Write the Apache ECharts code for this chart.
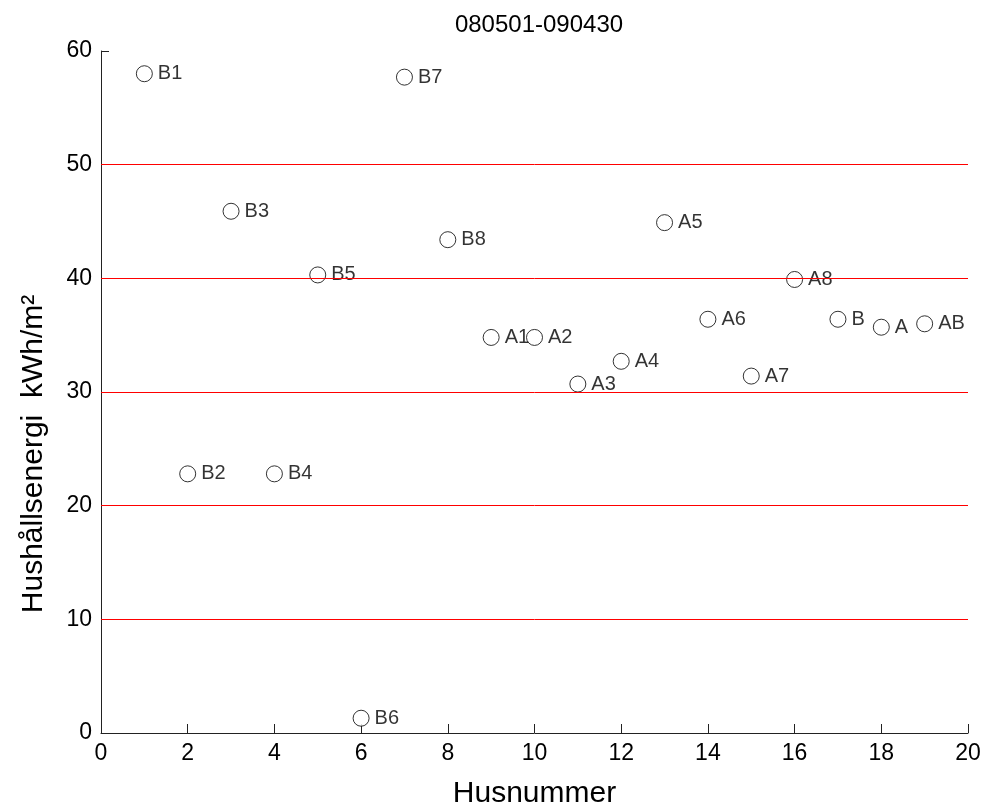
<!DOCTYPE html>
<html>
<head>
<meta charset="utf-8">
<script src="https://cdn.jsdelivr.net/npm/echarts@6/dist/echarts.min.js"></script>
<style>html,body{margin:0;padding:0;background:#fff;}#c{width:985px;height:807px;}</style>
</head>
<body>
<div id="c"></div>
<script>
const houseNumbers = [1, 2, 3, 4, 5, 6, 7, 8, 9, 10, 11, 12, 13, 14, 15, 16, 17, 18, 19];
const energy = [58.0, 22.8, 45.9, 22.8, 40.3, 1.3, 57.7, 43.4, 34.8, 34.8, 30.7, 32.7, 44.9, 36.4, 31.4, 39.9, 36.4, 35.7, 36.0];
const houseLabels = ['B1', 'B2', 'B3', 'B4', 'B5', 'B6', 'B7', 'B8', 'A1', 'A2', 'A3', 'A4', 'A5', 'A6', 'A7', 'A8', 'B', 'A', 'AB'];
const gridValues = [10, 20, 30, 40, 50];

const font = 'Liberation Sans, Arial, sans-serif';
const chart = echarts.init(document.getElementById('c'), null, {renderer: 'canvas'});
const points = houseNumbers.map((x, i) => ({value: [x, energy[i]], name: houseLabels[i]}));

chart.setOption({
  backgroundColor: '#fff',
  animation: false,
  title: {
    text: '080501-090430',
    left: 534, top: 8, textAlign: 'center',
    textStyle: {fontFamily: font, fontSize: 24, fontWeight: 'normal', color: '#000'}
  },
  grid: {left: 101, right: 17, top: 51, bottom: 74, containLabel: false, outerBoundsMode: 'none'},
  xAxis: {
    type: 'value', min: 0, max: 20, interval: 2,
    name: 'Husnummer', nameLocation: 'middle', nameGap: 46,
    nameTextStyle: {fontFamily: font, fontSize: 30, color: '#000'},
    axisLine: {show: true, onZero: false, lineStyle: {color: '#222', width: 1}},
    axisTick: {show: true, inside: true, length: 9, lineStyle: {color: '#222'}},
    axisLabel: {fontFamily: font, fontSize: 23, color: '#000', margin: 9},
    splitLine: {show: false}
  },
  yAxis: {
    type: 'value', min: 0, max: 60, interval: 10,
    name: 'Hushållsenergi  kWh/m²', nameLocation: 'middle', nameGap: 52, nameRotate: 90,
    nameTextStyle: {fontFamily: font, fontSize: 30, color: '#000', padding: [0, 124, 0, 0]},
    axisLine: {show: true, onZero: false, lineStyle: {color: '#222', width: 1}},
    axisTick: {show: true, inside: true, length: 8, lineStyle: {color: '#222'}},
    axisLabel: {fontFamily: font, fontSize: 23, color: '#000', margin: 9},
    splitLine: {show: false}
  },
  series: [{
    type: 'scatter',
    data: points,
    symbol: 'circle',
    symbolSize: 16,
    z: 3,
    itemStyle: {color: '#fff', borderColor: '#000', borderWidth: 1},
    label: {
      show: true, position: 'right', distance: 5,
      formatter: p => p.name,
      fontFamily: font, fontSize: 20, color: '#000'
    },
    markLine: {
      silent: true,
      symbol: 'none',
      label: {show: false},
      lineStyle: {color: '#ff0000', width: 1, type: 'solid'},
      emphasis: {disabled: true},
      data: gridValues.map(v => ({yAxis: v}))
    }
  }]
});
</script>
</body>
</html>
